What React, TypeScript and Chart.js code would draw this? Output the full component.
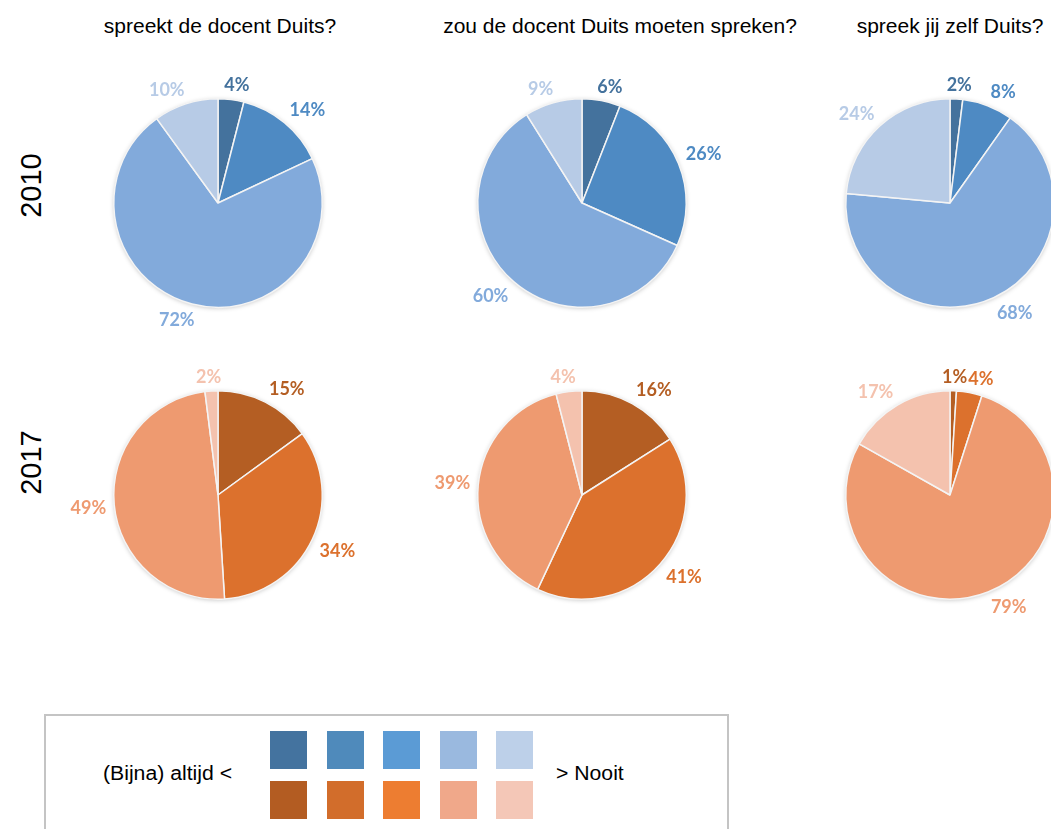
import React, { useEffect, useRef } from "react";
import { Chart, registerables } from "chart.js";

Chart.register(...registerables);

// ---------- data ----------
const questions = [
  "spreekt de docent Duits?",
  "zou de docent Duits moeten spreken?",
  "spreek jij zelf Duits?",
];
const years = ["2010", "2017"];
const sliceCategories = ["1", "2", "3", "4"];
const values2010 = [
  [4, 14, 72, 10],
  [6, 26, 60, 9],
  [2, 8, 68, 24],
];
const values2017 = [
  [15, 34, 49, 2],
  [16, 41, 39, 4],
  [1, 4, 79, 17],
];
const blueSlices = ["#44729D", "#4E8AC3", "#82AADB", "#B7CBE6"];
const orangeSlices = ["#B45E23", "#DC712D", "#EE9A70", "#F4C2AE"];
const legendBlue = ["#44739F", "#4F8ABB", "#5B9BD5", "#9AB9DF", "#BDD0E9"];
const legendOrange = ["#B35C22", "#D26D2B", "#ED7D31", "#F0A88A", "#F4C7B7"];
const legendLeftText = "(Bijna) altijd <";
const legendRightText = "> Nooit";

// ---------- layout ----------
const W = 1051;
const H = 829;
const colX = [218, 582, 950];
const titleX = [220, 620, 950];
const rowY = [203, 495];
const RADIUS = 105;
const CANVAS = 320;
const LABEL_FONT = "bold 18px Lato";

const clamp = (v: number) => Math.max(-1, Math.min(1, v));

const shadowPlugin = {
  id: "pieShadow",
  beforeDatasetsDraw(chart: any) {
    const meta = chart.getDatasetMeta(0);
    const arc = meta.data[0];
    if (!arc) return;
    const { x, y, outerRadius } = arc.getProps(["x", "y", "outerRadius"], true);
    const ctx = chart.ctx;
    ctx.save();
    ctx.shadowColor = "rgba(0,0,0,0.28)";
    ctx.shadowBlur = 5;
    ctx.shadowOffsetX = 0;
    ctx.shadowOffsetY = 1;
    ctx.beginPath();
    ctx.arc(x, y, outerRadius - 0.5, 0, Math.PI * 2);
    ctx.fillStyle = "#dddddd";
    ctx.fill();
    ctx.restore();
  },
};

const labelPlugin = {
  id: "outsideLabels",
  afterDatasetsDraw(chart: any) {
    const meta = chart.getDatasetMeta(0);
    const ds = chart.data.datasets[0];
    const ctx = chart.ctx;
    ctx.save();
    ctx.font = LABEL_FONT;
    ctx.textAlign = "center";
    ctx.textBaseline = "middle";
    const boxes: { cx: number; cy: number; w: number; h: number }[] = [];
    meta.data.forEach((arc: any, i: number) => {
      const { x, y, startAngle, endAngle, outerRadius } = arc.getProps(
        ["x", "y", "startAngle", "endAngle", "outerRadius"],
        true
      );
      const mid = (startAngle + endAngle) / 2;
      const dx = Math.cos(mid);
      const dy = Math.sin(mid);
      const ax = x + dx * (outerRadius + 8);
      const ay = y + dy * (outerRadius + 8);
      const text = ds.data[i] + "%";
      const w = ctx.measureText(text).width;
      const h = 14;
      let cx = ax + (clamp(dx * 3) * w) / 2;
      const cy = ay + (clamp(dy * 3) * h) / 2;
      const prev = boxes[i - 1];
      if (prev && Math.abs(prev.cy - cy) < h && dx > 0) {
        const minCx = prev.cx + prev.w / 2 + w / 2 + 1;
        if (cx < minCx) cx = minCx;
      }
      boxes.push({ cx, cy, w, h });
      ctx.fillStyle = ds.labelColors[i];
      ctx.fillText(text, cx, cy + 1);
    });
    ctx.restore();
  },
};

function Pie({ values, colors, cx, cy }: { values: number[]; colors: string[]; cx: number; cy: number }) {
  const ref = useRef<HTMLCanvasElement | null>(null);
  useEffect(() => {
    if (!ref.current) return;
    const pad = (CANVAS - 2 * RADIUS) / 2;
    const chart = new Chart(ref.current, {
      type: "pie",
      data: {
        labels: sliceCategories,
        datasets: [
          {
            data: values,
            backgroundColor: colors,
            borderColor: "#f4f4f4",
            borderWidth: 1.5,
            labelColors: colors,
          } as any,
        ],
      },
      options: {
        responsive: false,
        animation: false,
        devicePixelRatio: 1,
        layout: { padding: pad },
        plugins: { legend: { display: false }, tooltip: { enabled: false } },
      },
      plugins: [shadowPlugin, labelPlugin],
    });
    return () => chart.destroy();
  }, [values, colors]);
  return (
    <canvas
      ref={ref}
      width={CANVAS}
      height={CANVAS}
      style={{ position: "absolute", left: cx - CANVAS / 2, top: cy - CANVAS / 2, width: CANVAS, height: CANVAS }}
    />
  );
}

const textBase: React.CSSProperties = {
  position: "absolute",
  fontFamily: "'Liberation Sans', Arial, sans-serif",
  color: "#000",
  whiteSpace: "nowrap",
};

export default function App() {
  const rows = [
    { values: values2010, colors: blueSlices },
    { values: values2017, colors: orangeSlices },
  ];
  const sqX0 = 270;
  const sqStep = 56.5;
  return (
    <div style={{ position: "absolute", left: 0, top: 0, width: W, height: H, overflow: "hidden", background: "#fff" }}>
      {questions.map((q, i) => (
        <div
          key={q}
          style={{ ...textBase, left: titleX[i] - 250, top: 15, width: 500, textAlign: "center", fontSize: 21, lineHeight: "21px" }}
        >
          {q}
        </div>
      ))}
      {years.map((y, r) => (
        <div
          key={y}
          style={{
            ...textBase,
            left: 31 - 60,
            top: (r === 0 ? 185 : 462) - 14.5,
            width: 120,
            height: 29,
            textAlign: "center",
            fontSize: 29,
            lineHeight: "29px",
            transform: "rotate(-90deg)",
          }}
        >
          {y}
        </div>
      ))}
      {rows.map((row, r) =>
        row.values.map((vals, c) => (
          <Pie key={r + "-" + c} values={vals} colors={row.colors} cx={colX[c]} cy={rowY[r]} />
        ))
      )}
      <div
        style={{
          position: "absolute",
          left: 44,
          top: 714,
          width: 685,
          height: 200,
          border: "2px solid #C4C4C4",
          boxSizing: "border-box",
        }}
      />
      <div style={{ ...textBase, left: 103, top: 763, fontSize: 20, lineHeight: "20px", transform: "scaleX(1.06)", transformOrigin: "left center" }}>
        {legendLeftText}
      </div>
      <div style={{ ...textBase, left: 556, top: 763, fontSize: 20, lineHeight: "20px", transform: "scaleX(1.06)", transformOrigin: "left center" }}>
        {legendRightText}
      </div>
      {legendBlue.map((col, i) => (
        <div key={"b" + i} style={{ position: "absolute", left: sqX0 + i * sqStep, top: 731, width: 37, height: 38, background: col }} />
      ))}
      {legendOrange.map((col, i) => (
        <div key={"o" + i} style={{ position: "absolute", left: sqX0 + i * sqStep, top: 781, width: 37, height: 38, background: col }} />
      ))}
    </div>
  );
}
